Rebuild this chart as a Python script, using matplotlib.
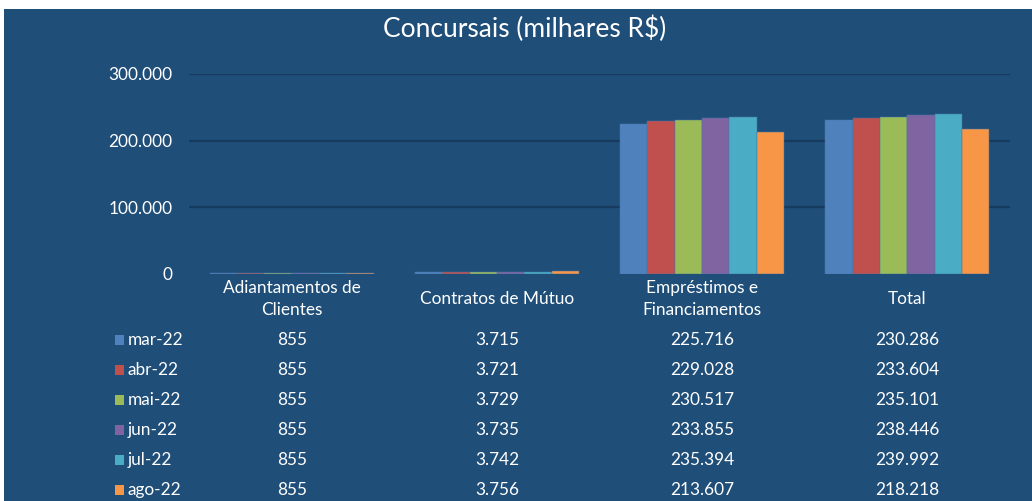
import matplotlib.pyplot as plt
import matplotlib.transforms as mtransforms
from matplotlib.patches import Rectangle

plt.rcParams['font.family'] = ['Lato', 'DejaVu Sans']

# Data (milhares R$)
categories = ['Adiantamentos de\nClientes', 'Contratos de Mútuo', 'Empréstimos e\nFinanciamentos', 'Total']
months = ['mar-22', 'abr-22', 'mai-22', 'jun-22', 'jul-22', 'ago-22']
adiantamentos = [855, 855, 855, 855, 855, 855]
contratos = [3715, 3721, 3729, 3735, 3742, 3756]
emprestimos = [225716, 229028, 230517, 233855, 235394, 213607]
total = [230286, 233604, 235101, 238446, 239992, 218218]
yticks = [0, 100000, 200000, 300000]

colors = ['#4F81BD', '#C0504D', '#9BBB59', '#8064A2', '#4BACC6', '#F79646']
bg = '#1F4E79'
grid_color = '#173A5F'
fs = 12.4

W, H = 1032, 501
fig = plt.figure(figsize=(W / 100, H / 100), dpi=100, facecolor='white')
fig.patches.append(Rectangle((4 / W, 0), 1 - 4 / W, 1 - 9 / H, transform=fig.transFigure,
                             facecolor=bg, edgecolor='none', zorder=-5))

ax = fig.add_axes([189 / W, 1 - 274 / H, (1010 - 189) / W, 200 / H])
ax.set_facecolor('none')


def fmt(v):
    return f'{v:,}'.replace(',', '.')


series = list(zip(adiantamentos, contratos, emprestimos, total))
n = len(months)
bw = 1 / (n + 1.5)
for i, m in enumerate(months):
    xs = [c - 0.5 + 0.75 * bw + bw * (i + 0.5) for c in range(len(categories))]
    ax.bar(xs, series[i], width=bw, color=colors[i], edgecolor='#4575A8', linewidth=0.35, zorder=3)

ax.set_xlim(-0.5, len(categories) - 0.5)
ax.set_ylim(0, 300000)
for t in yticks[1:]:
    ax.axhline(t, color=grid_color, linewidth=1.6, zorder=1)
ax.set_yticks(yticks)
ax.set_yticklabels([fmt(t) for t in yticks], color='white', fontsize=fs)
ax.tick_params(axis='y', length=0, pad=12)
ax.set_xticks([])
for s in ax.spines.values():
    s.set_visible(False)

# category labels and data table
tr = mtransforms.blended_transform_factory(ax.transData, fig.transFigure)
for c, cat in enumerate(categories):
    fig.text(c, 1 - 299 / H, cat, transform=tr, ha='center', va='center',
             color='white', fontsize=fs, linespacing=1.4)

row_y = [340, 370, 400, 430, 460, 490]
for i, m in enumerate(months):
    y = 1 - row_y[i] / H
    fig.patches.append(Rectangle((115 / W, y - 5 / H), 9 / W, 10 / H, transform=fig.transFigure,
                                 facecolor=colors[i], edgecolor='none', zorder=2))
    fig.text(128 / W, y, m, ha='left', va='center', color='white', fontsize=fs)
    for c in range(len(categories)):
        fig.text(c, y, fmt(series[i][c]), transform=tr, ha='center', va='center',
                 color='white', fontsize=fs)

fig.text(525 / W, 1 - 29 / H, 'Concursais (milhares R$)', ha='center', va='center',
         color='white', fontsize=19)

fig.savefig('out.png', dpi=100, facecolor=fig.get_facecolor())
